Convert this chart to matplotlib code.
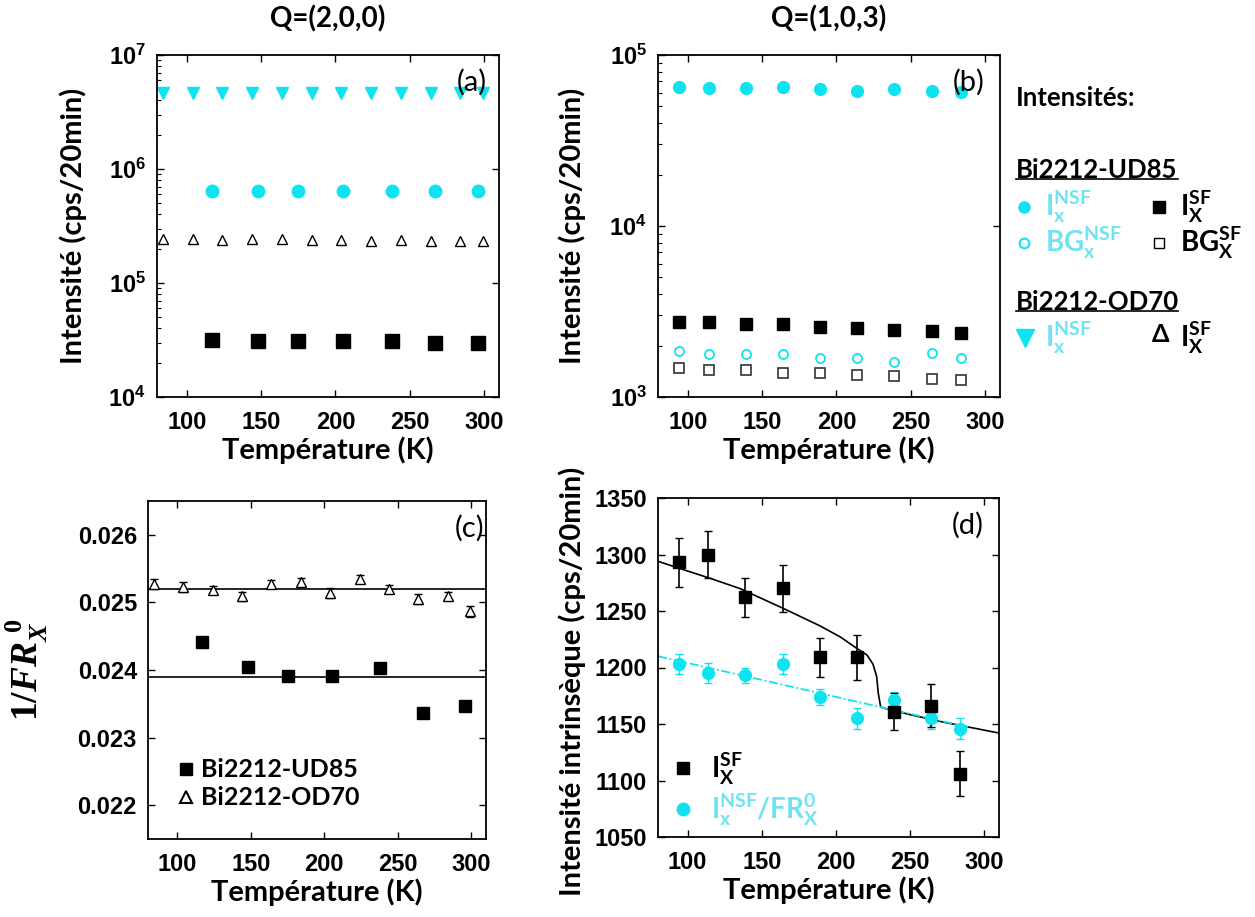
import numpy as np
import matplotlib
matplotlib.use('Agg')
import matplotlib.pyplot as plt
from matplotlib.lines import Line2D
from matplotlib.ticker import FuncFormatter, NullFormatter

plt.rcParams['font.family'] = ['Liberation Sans', 'DejaVu Sans']
plt.rcParams['font.weight'] = 'bold'
plt.rcParams['axes.labelweight'] = 'bold'
plt.rcParams['mathtext.fontset'] = 'custom'
plt.rcParams['mathtext.bf'] = 'Liberation Sans:bold'
plt.rcParams['mathtext.rm'] = 'Liberation Sans:bold'
plt.rcParams['mathtext.sf'] = 'Lato:bold'
plt.rcParams['mathtext.tt'] = 'Liberation Serif:bold'
plt.rcParams['mathtext.cal'] = 'Liberation Serif:bold:italic'

CYAN = '#10e3f0'
CYAN_TXT = '#6fe3f2'
LBL = 'Lato'

# ---- (a) Q=(2,0,0) ----
T_ud_a = [117, 148, 175, 205, 238, 267, 296]
Insf_ud_a = [6.45e5, 6.45e5, 6.4e5, 6.45e5, 6.45e5, 6.4e5, 6.4e5]
Isf_ud_a = [3.15e4, 3.1e4, 3.08e4, 3.08e4, 3.1e4, 3.0e4, 3.0e4]
T_od_a = [84, 104, 124, 144, 164, 184, 204, 224, 244, 264, 284, 299]
Insf_od_a = [4.6e6, 4.6e6, 4.6e6, 4.6e6, 4.6e6, 4.6e6, 4.6e6, 4.6e6, 4.6e6, 4.6e6, 4.6e6, 4.6e6]
Isf_od_a = [2.42e5, 2.42e5, 2.4e5, 2.42e5, 2.42e5, 2.4e5, 2.36e5, 2.35e5, 2.36e5, 2.35e5, 2.35e5, 2.35e5]

# ---- (b) Q=(1,0,3) ----
T_b = [94, 114, 139, 164, 189, 214, 239, 264, 284]
Insf_b = [6.5e4, 6.45e4, 6.4e4, 6.5e4, 6.3e4, 6.2e4, 6.3e4, 6.2e4, 6.1e4]
Isf_b = [2.76e3, 2.74e3, 2.67e3, 2.67e3, 2.56e3, 2.52e3, 2.47e3, 2.43e3, 2.36e3]
BGnsf_b = [1.87e3, 1.78e3, 1.78e3, 1.78e3, 1.68e3, 1.68e3, 1.6e3, 1.82e3, 1.68e3]
BGsf_b = [1.47e3, 1.44e3, 1.44e3, 1.39e3, 1.38e3, 1.35e3, 1.32e3, 1.27e3, 1.25e3]

# ---- (c) 1/FR ----
FR_ud = [0.02442, 0.02405, 0.02391, 0.02391, 0.02403, 0.02337, 0.02347]
FR_ud_err = [0.00005, 0.00006, 0.00006, 0.00005, 0.00005, 0.00005, 0.00006]
FR_od = [0.02527, 0.02523, 0.02518, 0.02509, 0.02527, 0.0253, 0.02514, 0.02535, 0.0252, 0.02505, 0.02509, 0.02487]
FR_od_err = [0.00007, 0.00007, 0.00006, 0.00007, 0.00006, 0.00006, 0.00007, 0.00006, 0.00006, 0.00007, 0.00006, 0.00008]
FR_mean_od = 0.0252
FR_mean_ud = 0.0239

# ---- (d) intrinsic intensity ----
Isf_d = [1293, 1300, 1262, 1270, 1209, 1209, 1161, 1166, 1106]
Isf_d_err = [22, 21, 17, 21, 17, 20, 16, 19, 20]
Inorm_d = [1203, 1195, 1193, 1203, 1174, 1155, 1171, 1155, 1146]
Inorm_d_err = [9, 9, 7, 9, 7, 9, 7, 9, 9]
T_fit = [80, 95, 115, 135, 150, 165, 189, 203, 214, 221, 225, 227.5, 228.6, 230.2, 234, 252, 272, 310]
I_fit = [1294, 1287.5, 1279, 1270, 1261, 1252, 1237, 1227, 1217, 1211, 1203, 1192, 1177, 1165, 1163.5, 1157.7, 1151.8, 1142]
T_lin = [80, 290]
I_lin = [1210, 1147]

W, H = 1255, 917
fig = plt.figure(figsize=(W / 100, H / 100), dpi=100)


def px_axes(l, t, r, b):
    return fig.add_axes([l / W, 1 - b / H, (r - l) / W, (b - t) / H])


def style(ax, letter, lx=0.965):
    for s in ax.spines.values():
        s.set_linewidth(1.3)
    ax.tick_params(which='major', direction='in', top=True, right=True,
                   length=5, width=1, labelsize=17, pad=8)
    ax.tick_params(axis='x', which='major', pad=10)
    ax.tick_params(which='minor', direction='in', length=3, width=0.8,
                   right=False, top=False)
    ax.set_xlim(80, 310)
    ax.set_xticks([100, 150, 200, 250, 300])
    ax.set_xlabel('Température (K)', fontsize=21, fontfamily=LBL,
                  fontweight='bold', labelpad=2)
    ax.text(lx, 0.92, letter, transform=ax.transAxes, ha='right', va='center',
            fontsize=21, fontweight='normal', fontfamily=LBL)


def log_fmt(v, p):
    return r'$\mathbf{10^{%d}}$' % int(round(np.log10(v)))


# (a)
ax = px_axes(157, 55, 499, 397)
ax.set_yscale('log')
ax.set_ylim(1e4, 1e7)
ax.plot(T_od_a, Insf_od_a, 'v', color=CYAN, ms=9, ls='none')
ax.plot(T_ud_a, Insf_ud_a, 'o', color=CYAN, ms=9, ls='none')
ax.plot(T_od_a, Isf_od_a, '^', mfc='white', mec='black', mew=1, ms=7, ls='none')
ax.plot(T_ud_a, Isf_ud_a, 's', color='black', ms=9.5, ls='none')
style(ax, '(a)')
ax.yaxis.set_major_formatter(FuncFormatter(log_fmt))
ax.yaxis.set_minor_formatter(NullFormatter())
ax.set_ylabel('Intensité (cps/20min)', fontsize=21, fontfamily=LBL, fontweight='bold')
ax.yaxis.set_label_coords(-0.205, 0.5)
ax.set_title('Q=(2,0,0)', fontsize=20, fontfamily=LBL, fontweight='bold', pad=20)

# (b)
ax = px_axes(658, 55, 1000, 397)
ax.set_yscale('log')
ax.set_ylim(1e3, 1e5)
ax.plot(T_b, Insf_b, 'o', color=CYAN, ms=8.5, ls='none')
ax.plot(T_b, Isf_b, 's', color='black', ms=8.5, ls='none')
ax.errorbar(T_b, BGnsf_b, yerr=[40] * len(T_b), fmt='o', mfc='white', mec=CYAN,
            ecolor=CYAN, mew=1.3, ms=6.5, elinewidth=1, capsize=1.5)
ax.errorbar(T_b, BGsf_b, yerr=[25] * len(T_b), fmt='s', mfc='white', mec='#333333',
            ecolor='#333333', mew=1.2, ms=7, elinewidth=1, capsize=1.5)
style(ax, '(b)', lx=0.955)
ax.yaxis.set_major_formatter(FuncFormatter(log_fmt))
ax.yaxis.set_minor_formatter(NullFormatter())
ax.set_ylabel('Intensité (cps/20min)', fontsize=21, fontfamily=LBL, fontweight='bold')
ax.yaxis.set_label_coords(-0.211, 0.5)
ax.set_title('Q=(1,0,3)', fontsize=20, fontfamily=LBL, fontweight='bold', pad=20)

# (c)
ax = px_axes(148, 501, 486, 839)
ax.set_ylim(0.0215, 0.0265)
ax.axhline(FR_mean_od, color='black', lw=1.2)
ax.axhline(FR_mean_ud, color='black', lw=1.2)
ax.errorbar(T_od_a, FR_od, yerr=FR_od_err, fmt='^', mfc='white', mec='black',
            ecolor='black', mew=1, ms=7, elinewidth=1, capsize=3)
ax.errorbar(T_ud_a, FR_ud, yerr=FR_ud_err, fmt='s', color='black',
            ms=9, elinewidth=1, capsize=3)
style(ax, '(c)', lx=0.995)
ax.set_yticks([0.022, 0.023, 0.024, 0.025, 0.026])
ax.set_ylabel(r'$\mathtt{1/}\mathcal{FR}_{\mathcal{X}}^{\ \mathtt{0}}$', fontsize=27)
ax.yaxis.set_label_coords(-0.29, 0.5)
h = [Line2D([], [], marker='s', color='black', ls='none', ms=8),
     Line2D([], [], marker='^', mfc='white', mec='black', mew=1.5, ls='none', ms=9)]
ax.legend(h, ['Bi2212-UD85', 'Bi2212-OD70'], loc='center left',
          bbox_to_anchor=(0.058, 0.163), borderaxespad=0, frameon=False,
          handlelength=0.7, handletextpad=0.25, labelspacing=0.2,
          prop={'family': LBL, 'weight': 'bold', 'size': 18})

# (d)
ax = px_axes(658, 498, 999, 837)
ax.set_ylim(1050, 1350)
ax.plot(T_fit, I_fit, color='black', lw=1.2)
ax.plot(T_lin, I_lin, color=CYAN, lw=1.3, ls=(0, (5, 1.5, 1, 1.5)))
ax.errorbar(T_b, Inorm_d, yerr=Inorm_d_err, fmt='o', color=CYAN, ms=8.5,
            elinewidth=1, capsize=3)
ax.errorbar(T_b, Isf_d, yerr=Isf_d_err, fmt='s', color='black', ms=9,
            elinewidth=1.2, capsize=3)
style(ax, '(d)', lx=0.955)
ax.set_yticks([1050, 1100, 1150, 1200, 1250, 1300, 1350])
ax.set_ylabel('Intensité intrinsèque (cps/20min)', fontsize=21, fontfamily=LBL,
              fontweight='bold')
ax.yaxis.set_label_coords(-0.211, 0.46)
h = [Line2D([], [], marker='s', color='black', ls='none', ms=9),
     Line2D([], [], marker='o', color=CYAN, ls='none', ms=9)]
leg = ax.legend(h, [r'$\mathsf{I_X^{SF}}$', r'$\mathsf{I_x^{NSF}/FR_X^{0}}$'],
                loc='center left', bbox_to_anchor=(0.008, 0.14), borderaxespad=0,
                frameon=False, handlelength=0.8, handletextpad=0.6,
                labelspacing=0.15, prop={'size': 20})
leg.get_texts()[1].set_color(CYAN_TXT)


# right-hand legend
def fx(x):
    return x / W


def fy(y):
    return 1 - y / H


fig.text(fx(1016), fy(98), 'Intensités:', fontsize=18.5, fontfamily=LBL,
         fontweight='bold', va='center')
for y, name in [(170, 'Bi2212-UD85'), (302, 'Bi2212-OD70')]:
    fig.text(fx(1016), fy(y), name, fontsize=18.5, fontfamily=LBL,
             fontweight='bold', va='center')
    fig.add_artist(Line2D([fx(1016), fx(1178)], [fy(y + 9), fy(y + 9)],
                          color='black', lw=1.2, transform=fig.transFigure))

rows = [
    (207, dict(marker='o', color=CYAN, ms=8), r'$\mathsf{I_x^{NSF}}$',
     dict(marker='s', color='black', ms=8), r'$\mathsf{I_X^{SF}}$'),
    (243, dict(marker='o', mfc='white', mec=CYAN, mew=1.5, ms=7), r'$\mathsf{BG_x^{NSF}}$',
     dict(marker='s', mfc='white', mec='black', mew=1, ms=7), r'$\mathsf{BG_X^{SF}}$'),
]
for y, m1, t1, m2, t2 in rows:
    fig.add_artist(Line2D([fx(1024)], [fy(y)], ls='none', transform=fig.transFigure, **m1))
    fig.text(fx(1045), fy(y), t1, color=CYAN_TXT, fontsize=20, va='center')
    fig.add_artist(Line2D([fx(1159)], [fy(y)], ls='none', transform=fig.transFigure, **m2))
    fig.text(fx(1180), fy(y), t2, color='black', fontsize=20, va='center')

fig.add_artist(Line2D([fx(1025)], [fy(338)], ls='none', marker='v', color=CYAN,
                      ms=13, transform=fig.transFigure))
fig.text(fx(1045), fy(338), r'$\mathsf{I_x^{NSF}}$', color=CYAN_TXT, fontsize=20, va='center')
fig.text(fx(1160), fy(335), 'Δ', color='black', fontsize=18, fontfamily=LBL,
         fontweight='bold', ha='center', va='center')
fig.text(fx(1180), fy(338), r'$\mathsf{I_X^{SF}}$', color='black', fontsize=20, va='center')

fig.savefig('out.png', dpi=100)
